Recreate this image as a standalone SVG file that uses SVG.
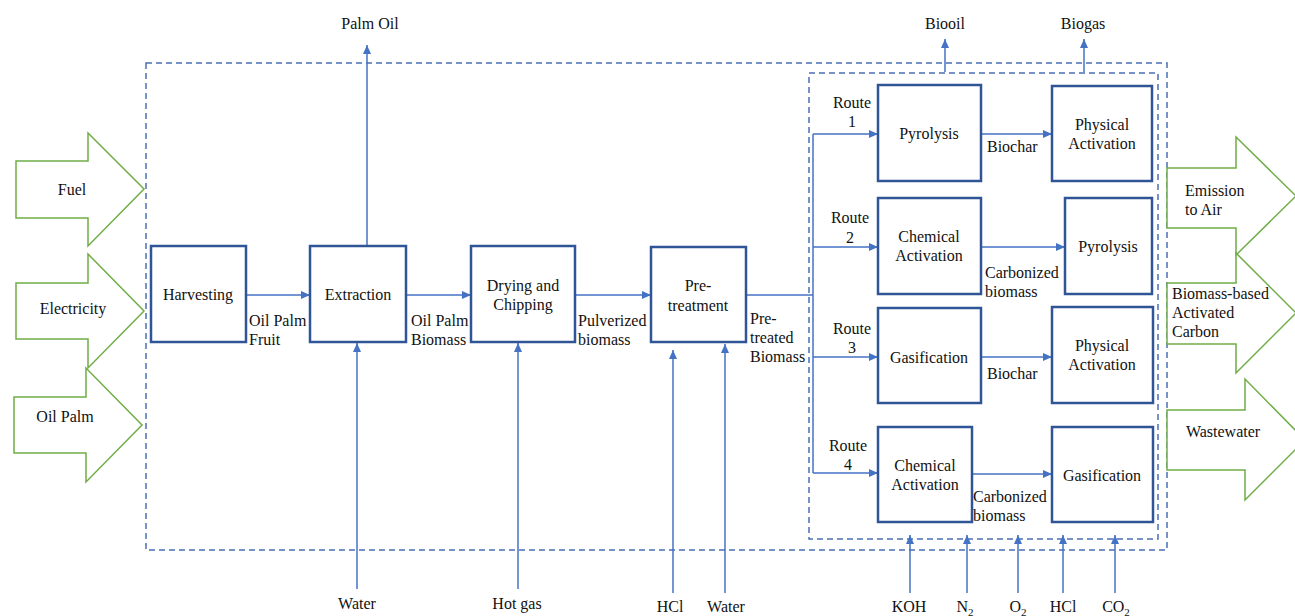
<svg xmlns="http://www.w3.org/2000/svg" width="1295" height="616" viewBox="0 0 1295 616" font-family="'Liberation Serif', 'DejaVu Serif', serif">
<style>
text{font-family:'Liberation Serif','DejaVu Serif',serif;font-size:16px;fill:#111}
.c{text-anchor:middle}
.box{fill:#fff;stroke:#2f5597;stroke-width:2.5}
.ln{stroke:#4472c4;stroke-width:1.5;fill:none}
.dash{fill:none;stroke:#4a6fb5;stroke-width:1.5;stroke-dasharray:6 4}
.gr{fill:#fff;stroke:#70ad47;stroke-width:1.5}
</style>
<defs>
<marker id="ah" markerWidth="9" markerHeight="8" refX="9" refY="4" orient="auto" markerUnits="userSpaceOnUse"><path d="M0,0 L9,4 L0,8 z" fill="#4472c4"/></marker>
</defs>
<rect width="1295" height="616" fill="#fff"/>

<g id="boundaries">
<rect class="dash" x="146" y="63" width="1021" height="487"/>
<rect class="dash" x="809" y="73" width="349" height="466"/>
</g>

<g id="inputs">
<g id="fuel"><polygon class="gr" points="16,161 88,161 88,133 144,189 88,246 88,218 16,218"/><text class="c" x="72" y="195">Fuel</text></g>
<g id="electricity"><polygon class="gr" points="16,283 88,283 88,254 144,311 88,368 88,339 16,339"/><text class="c" x="73" y="314">Electricity</text></g>
<g id="oilpalm"><polygon class="gr" points="14,397 86,397 86,368 142,425 86,482 86,453 14,453"/><text class="c" x="65" y="422">Oil Palm</text></g>
</g>

<g id="outputs">
<g id="emission"><polygon class="gr" points="1167,168 1236,168 1236,137 1296,196 1236,255 1236,228 1167,228"/><text x="1185" y="196">Emission</text><text x="1185" y="215">to Air</text></g>
<g id="activated-carbon"><polygon class="gr" points="1167,283 1236,283 1236,253 1296,313 1236,373 1236,344 1167,344"/><text x="1172" y="299">Biomass-based</text><text x="1172" y="318">Activated</text><text x="1172" y="337">Carbon</text></g>
<g id="wastewater"><polygon class="gr" points="1167,410 1245,410 1245,379 1305,440 1245,500 1245,470 1167,470"/><text class="c" x="1223" y="437">Wastewater</text></g>
</g>

<g id="connectors">
<line class="ln" x1="246" y1="295" x2="310" y2="295" marker-end="url(#ah)"/>
<line class="ln" x1="406" y1="295" x2="471" y2="295" marker-end="url(#ah)"/>
<line class="ln" x1="575" y1="295" x2="651" y2="295" marker-end="url(#ah)"/>
<line class="ln" x1="746" y1="295" x2="813" y2="295"/>
<line class="ln" x1="813" y1="134" x2="813" y2="473"/>
<line class="ln" x1="813" y1="134" x2="878" y2="134" marker-end="url(#ah)"/>
<line class="ln" x1="813" y1="247" x2="878" y2="247" marker-end="url(#ah)"/>
<line class="ln" x1="813" y1="357" x2="878" y2="357" marker-end="url(#ah)"/>
<line class="ln" x1="813" y1="473" x2="878" y2="473" marker-end="url(#ah)"/>
<line class="ln" x1="981" y1="134" x2="1052" y2="134" marker-end="url(#ah)"/>
<line class="ln" x1="981" y1="247" x2="1065" y2="247" marker-end="url(#ah)"/>
<line class="ln" x1="981" y1="357" x2="1052" y2="357" marker-end="url(#ah)"/>
<line class="ln" x1="972" y1="474" x2="1052" y2="474" marker-end="url(#ah)"/>
<line class="ln" x1="367" y1="246" x2="367" y2="45" marker-end="url(#ah)"/>
<line class="ln" x1="945" y1="72" x2="945" y2="39" marker-end="url(#ah)"/>
<line class="ln" x1="1084" y1="72" x2="1084" y2="39" marker-end="url(#ah)"/>
<line class="ln" x1="357" y1="589" x2="357" y2="343" marker-end="url(#ah)"/>
<line class="ln" x1="518" y1="589" x2="518" y2="343" marker-end="url(#ah)"/>
<line class="ln" x1="673" y1="593" x2="673" y2="350" marker-end="url(#ah)"/>
<line class="ln" x1="725" y1="593" x2="725" y2="344" marker-end="url(#ah)"/>
<line class="ln" x1="910" y1="593" x2="910" y2="535" marker-end="url(#ah)"/>
<line class="ln" x1="967" y1="593" x2="967" y2="535" marker-end="url(#ah)"/>
<line class="ln" x1="1018" y1="593" x2="1018" y2="535" marker-end="url(#ah)"/>
<line class="ln" x1="1063" y1="593" x2="1063" y2="535" marker-end="url(#ah)"/>
<line class="ln" x1="1115" y1="593" x2="1115" y2="535" marker-end="url(#ah)"/>
</g>

<g id="labels">
<text x="249" y="326">Oil Palm</text><text x="249" y="345">Fruit</text>
<text x="411" y="326">Oil Palm</text><text x="411" y="345">Biomass</text>
<text x="578" y="326">Pulverized</text><text x="578" y="345">biomass</text>
<text x="750" y="324">Pre-</text><text x="750" y="343">treated</text><text x="750" y="362">Biomass</text>
<text class="c" x="852" y="108">Route</text><text class="c" x="852" y="127">1</text>
<text class="c" x="850" y="223">Route</text><text class="c" x="850" y="243">2</text>
<text class="c" x="852" y="334">Route</text><text class="c" x="852" y="353">3</text>
<text class="c" x="848" y="451">Route</text><text class="c" x="848" y="470">4</text>
<text x="987" y="152">Biochar</text>
<text x="985" y="278">Carbonized</text><text x="985" y="297">biomass</text>
<text x="987" y="379">Biochar</text>
<text x="973" y="502">Carbonized</text><text x="973" y="521">biomass</text>
<text class="c" x="370" y="29">Palm Oil</text>
<text class="c" x="945" y="29">Biooil</text>
<text class="c" x="1083" y="29">Biogas</text>
<text class="c" x="357" y="609">Water</text>
<text class="c" x="517" y="609">Hot gas</text>
<text class="c" x="670" y="612">HCl</text>
<text class="c" x="726" y="612">Water</text>
<text class="c" x="909" y="612">KOH</text>
<text class="c" x="965" y="612">N<tspan font-size="11" dy="4">2</tspan></text>
<text class="c" x="1018" y="612">O<tspan font-size="11" dy="4">2</tspan></text>
<text class="c" x="1063" y="612">HCl</text>
<text class="c" x="1116" y="612">CO<tspan font-size="11" dy="4">2</tspan></text>
</g>

<g id="harvesting"><rect class="box" x="151" y="246" width="95" height="96"/><text class="c" x="198" y="300">Harvesting</text></g>
<g id="extraction"><rect class="box" x="310" y="246" width="96" height="96"/><text class="c" x="358" y="300">Extraction</text></g>
<g id="drying"><rect class="box" x="471" y="246" width="104" height="96"/><text class="c" x="523" y="291">Drying and</text><text class="c" x="523" y="310">Chipping</text></g>
<g id="pretreatment"><rect class="box" x="651" y="247" width="95" height="95"/><text class="c" x="698" y="291">Pre-</text><text class="c" x="698" y="311">treatment</text></g>
<g id="pyrolysis1"><rect class="box" x="878" y="85" width="103" height="96"/><text class="c" x="929" y="139">Pyrolysis</text></g>
<g id="physical1"><rect class="box" x="1052" y="86" width="100" height="95"/><text class="c" x="1102" y="130">Physical</text><text class="c" x="1102" y="149">Activation</text></g>
<g id="chemical2"><rect class="box" x="878" y="198" width="103" height="96"/><text class="c" x="929" y="242">Chemical</text><text class="c" x="929" y="261">Activation</text></g>
<g id="pyrolysis2"><rect class="box" x="1065" y="198" width="87" height="96"/><text class="c" x="1108" y="252">Pyrolysis</text></g>
<g id="gasification3"><rect class="box" x="878" y="308" width="103" height="95"/><text class="c" x="929" y="363">Gasification</text></g>
<g id="physical3"><rect class="box" x="1052" y="307" width="101" height="96"/><text class="c" x="1102" y="351">Physical</text><text class="c" x="1102" y="370">Activation</text></g>
<g id="chemical4"><rect class="box" x="878" y="427" width="94" height="95"/><text class="c" x="925" y="471">Chemical</text><text class="c" x="925" y="490">Activation</text></g>
<g id="gasification4"><rect class="box" x="1052" y="427" width="101" height="95"/><text class="c" x="1102" y="481">Gasification</text></g>
</svg>
